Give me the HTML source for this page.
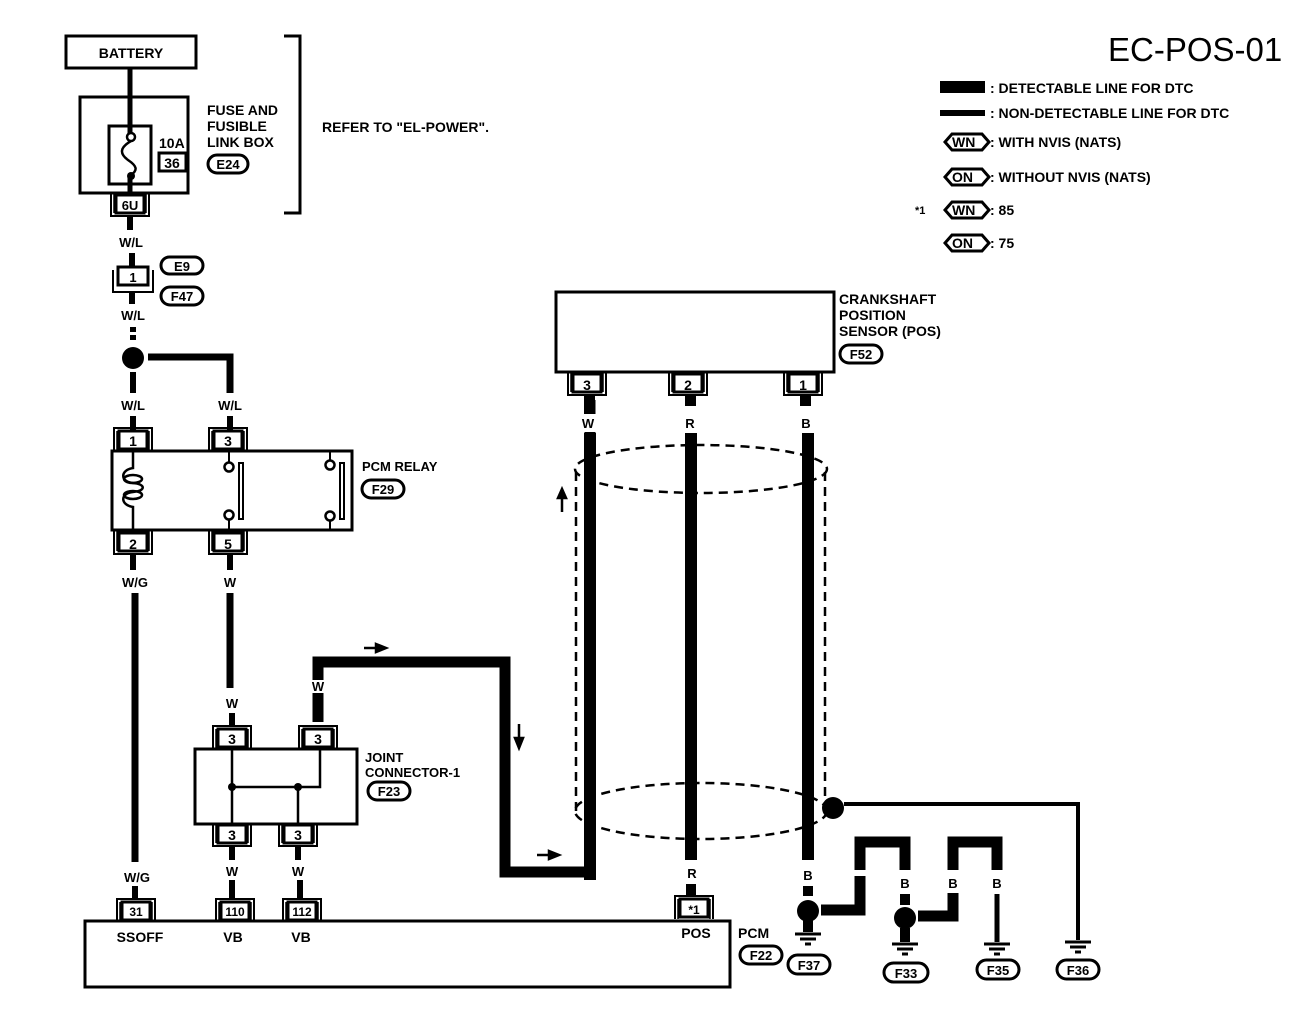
<!DOCTYPE html>
<html><head><meta charset="utf-8"><style>
html,body{margin:0;padding:0;background:#fff;}
svg{display:block;}
text{font-family:"Liberation Sans",sans-serif;fill:#000;font-weight:bold;}
</style></head><body>
<svg width="1312" height="1012" viewBox="0 0 1312 1012" xmlns="http://www.w3.org/2000/svg">
<defs>
<g id="ctop">
<rect x="-14" y="2" width="28" height="18" fill="#fff" stroke="#000" stroke-width="3"/>
<path d="M-19 22 V-1 H19 V22" fill="none" stroke="#000" stroke-width="2"/>
<path d="M-16 22 V2 M16 22 V2" fill="none" stroke="#000" stroke-width="1.5"/>
</g>
<g id="cbot">
<rect x="-14" y="0" width="28" height="18" fill="#fff" stroke="#000" stroke-width="3"/>
<path d="M-19 -2 V21 H19 V-2" fill="none" stroke="#000" stroke-width="2"/>
<path d="M-16 -2 V18 M16 -2 V18" fill="none" stroke="#000" stroke-width="1.5"/>
</g>
<g id="gnd"><path d="M-13 0 H13 M-8 5 H8 M-3 10 H3" stroke="#000" stroke-width="3"/></g>
</defs>
<text x="1108" y="61" font-size="33" style="font-weight:normal">EC-POS-01</text>

<!-- legend -->
<rect x="940" y="81" width="45" height="12" fill="#000"/>
<text x="990" y="93" font-size="14">: DETECTABLE LINE FOR DTC</text>
<rect x="940" y="110" width="45" height="6" fill="#000"/>
<text x="990" y="118" font-size="14">: NON-DETECTABLE LINE FOR DTC</text>
<g font-size="14">
<path d="M945 142 L952 134 H982 L989 142 L982 150 H952 Z" fill="none" stroke="#000" stroke-width="3"/>
<text x="952" y="147">WN</text><text x="990" y="147">: WITH NVIS (NATS)</text>
<path d="M945 177 L952 169 H982 L989 177 L982 185 H952 Z" fill="none" stroke="#000" stroke-width="3"/>
<text x="952" y="182">ON</text><text x="990" y="182">: WITHOUT NVIS (NATS)</text>
<text x="915" y="214" font-size="11">*1</text>
<path d="M945 210 L952 202 H982 L989 210 L982 218 H952 Z" fill="none" stroke="#000" stroke-width="3"/>
<text x="952" y="215">WN</text><text x="990" y="215">: 85</text>
<path d="M945 243 L952 235 H982 L989 243 L982 251 H952 Z" fill="none" stroke="#000" stroke-width="3"/>
<text x="952" y="248">ON</text><text x="990" y="248">: 75</text>
</g>

<!-- battery & fuse -->
<rect x="66" y="36" width="130" height="32" fill="#fff" stroke="#000" stroke-width="3"/>
<text x="131" y="58" font-size="14" text-anchor="middle">BATTERY</text>
<line x1="130" y1="68" x2="130" y2="120" stroke="#000" stroke-width="5"/>
<rect x="80" y="97" width="108" height="96" fill="none" stroke="#000" stroke-width="3"/>
<rect x="109" y="126" width="42" height="58" fill="#fff" stroke="#000" stroke-width="3"/>
<line x1="130" y1="97" x2="130" y2="133" stroke="#000" stroke-width="5"/>
<circle cx="131" cy="137" r="4" fill="#fff" stroke="#000" stroke-width="2.5"/>
<path d="M131 141 C119 148,120 154,128 160 C137 166,138 170,131 175" fill="none" stroke="#000" stroke-width="2.5"/>
<circle cx="131" cy="176" r="4" fill="#000"/>
<line x1="130" y1="176" x2="130" y2="198" stroke="#000" stroke-width="5"/>
<text x="159" y="148" font-size="14">10A</text>
<rect x="159" y="153" width="27" height="18" fill="none" stroke="#000" stroke-width="3"/>
<text x="172" y="168" font-size="14" text-anchor="middle">36</text>
<text x="207" y="115" font-size="14">FUSE AND</text>
<text x="207" y="131" font-size="14">FUSIBLE</text>
<text x="207" y="147" font-size="14">LINK BOX</text>
<rect x="208" y="155" width="40" height="18" rx="9" fill="none" stroke="#000" stroke-width="3"/>
<text x="228" y="169" font-size="13" text-anchor="middle">E24</text>
<path d="M284 36 H300 V213 H284" fill="none" stroke="#000" stroke-width="3"/>
<text x="322" y="132" font-size="14">REFER TO "EL-POWER".</text>

<use href="#cbot" x="130" y="195"/>
<text x="130" y="210" font-size="13" text-anchor="middle">6U</text>
<line x1="130" y1="216" x2="130" y2="230" stroke="#000" stroke-width="6"/>
<text x="131" y="247" font-size="13" text-anchor="middle">W/L</text>
<line x1="132" y1="253" x2="132" y2="268" stroke="#000" stroke-width="6"/>
<rect x="118" y="267" width="30" height="18" fill="#fff" stroke="#000" stroke-width="3"/>
<path d="M113 270 V292 H153 V270" fill="none" stroke="#000" stroke-width="2"/>
<text x="133" y="282" font-size="13" text-anchor="middle">1</text>
<rect x="161" y="257" width="42" height="17" rx="8.5" fill="none" stroke="#000" stroke-width="3"/>
<text x="182" y="271" font-size="13" text-anchor="middle">E9</text>
<rect x="161" y="287" width="42" height="18" rx="9" fill="none" stroke="#000" stroke-width="3"/>
<text x="182" y="301" font-size="13" text-anchor="middle">F47</text>
<line x1="132" y1="292" x2="132" y2="304" stroke="#000" stroke-width="6"/>
<text x="133" y="320" font-size="13" text-anchor="middle">W/L</text>
<line x1="133" y1="327" x2="133" y2="340" stroke="#000" stroke-width="6" stroke-dasharray="5 3"/>
<circle cx="133" cy="358" r="11" fill="#000"/>
<path d="M148 357 H230 V393" fill="none" stroke="#000" stroke-width="7"/>
<line x1="133" y1="372" x2="133" y2="393" stroke="#000" stroke-width="6"/>
<text x="133" y="410" font-size="13" text-anchor="middle">W/L</text>
<text x="230" y="410" font-size="13" text-anchor="middle">W/L</text>
<line x1="133" y1="416" x2="133" y2="430" stroke="#000" stroke-width="6"/>
<line x1="230" y1="416" x2="230" y2="430" stroke="#000" stroke-width="6"/>

<!-- PCM relay -->
<use href="#ctop" x="133" y="429"/><text x="133" y="446" font-size="14" text-anchor="middle">1</text>
<use href="#ctop" x="228" y="429"/><text x="228" y="446" font-size="14" text-anchor="middle">3</text>
<rect x="112" y="451" width="240" height="79" fill="none" stroke="#000" stroke-width="3"/>
<path d="M133 451 V468 C120 470,120 482,133 483 C146 484,146 491,133 492 C120 493,120 505,133 507 V530" fill="none" stroke="#000" stroke-width="2.5"/>
<ellipse cx="133" cy="479" rx="9" ry="4" fill="none" stroke="#000" stroke-width="2.5"/>
<ellipse cx="133" cy="495" rx="9" ry="4" fill="none" stroke="#000" stroke-width="2.5"/>
<line x1="229" y1="451" x2="229" y2="462" stroke="#000" stroke-width="2"/>
<circle cx="229" cy="467" r="4.5" fill="#fff" stroke="#000" stroke-width="2.5"/>
<circle cx="229" cy="515" r="4.5" fill="#fff" stroke="#000" stroke-width="2.5"/>
<line x1="229" y1="520" x2="229" y2="530" stroke="#000" stroke-width="2"/>
<rect x="239" y="463" width="4" height="56" fill="none" stroke="#000" stroke-width="2"/>
<circle cx="330" cy="465" r="4.5" fill="#fff" stroke="#000" stroke-width="2.5"/>
<circle cx="330" cy="516" r="4.5" fill="#fff" stroke="#000" stroke-width="2.5"/>
<line x1="330" y1="451" x2="330" y2="460" stroke="#000" stroke-width="2"/>
<line x1="330" y1="521" x2="330" y2="530" stroke="#000" stroke-width="2"/>
<rect x="340" y="463" width="4" height="56" fill="none" stroke="#000" stroke-width="2"/>
<text x="362" y="471" font-size="13">PCM RELAY</text>
<rect x="362" y="480" width="42" height="18" rx="9" fill="none" stroke="#000" stroke-width="3"/>
<text x="383" y="494" font-size="13" text-anchor="middle">F29</text>
<use href="#cbot" x="133" y="533"/><text x="133" y="549" font-size="14" text-anchor="middle">2</text>
<use href="#cbot" x="228" y="533"/><text x="228" y="549" font-size="14" text-anchor="middle">5</text>
<line x1="133" y1="554" x2="133" y2="570" stroke="#000" stroke-width="6"/>
<line x1="230" y1="554" x2="230" y2="570" stroke="#000" stroke-width="6"/>
<text x="135" y="587" font-size="13" text-anchor="middle">W/G</text>
<text x="230" y="587" font-size="13" text-anchor="middle">W</text>
<line x1="135" y1="593" x2="135" y2="862" stroke="#000" stroke-width="7"/>
<line x1="230" y1="593" x2="230" y2="688" stroke="#000" stroke-width="7"/>
<text x="232" y="708" font-size="13" text-anchor="middle">W</text>
<line x1="232" y1="713" x2="232" y2="727" stroke="#000" stroke-width="6"/>

<!-- detectable W route -->
<path d="M318 722 V662 H505 V872 H590 V400" fill="none" stroke="#000" stroke-width="11"/>
<line x1="318" y1="680" x2="318" y2="693" stroke="#fff" stroke-width="12"/>
<text x="318" y="691" font-size="13" text-anchor="middle">W</text>

<!-- joint connector -->
<use href="#ctop" x="232" y="727"/><text x="232" y="744" font-size="14" text-anchor="middle">3</text>
<use href="#ctop" x="318" y="727"/><text x="318" y="744" font-size="14" text-anchor="middle">3</text>
<rect x="195" y="749" width="162" height="75" fill="#fff" stroke="#000" stroke-width="3"/>
<path d="M232 749 V824 M232 787 H320 V749 M298 787 V824" fill="none" stroke="#000" stroke-width="2.5"/>
<circle cx="232" cy="787" r="4" fill="#000"/><circle cx="298" cy="787" r="4" fill="#000"/>
<text x="365" y="762" font-size="13">JOINT</text>
<text x="365" y="777" font-size="13">CONNECTOR-1</text>
<rect x="368" y="782" width="42" height="18" rx="9" fill="none" stroke="#000" stroke-width="3"/>
<text x="389" y="796" font-size="13" text-anchor="middle">F23</text>
<use href="#cbot" x="232" y="825"/><text x="232" y="840" font-size="14" text-anchor="middle">3</text>
<use href="#cbot" x="298" y="825"/><text x="298" y="840" font-size="14" text-anchor="middle">3</text>
<line x1="232" y1="846" x2="232" y2="860" stroke="#000" stroke-width="6"/>
<line x1="298" y1="846" x2="298" y2="860" stroke="#000" stroke-width="6"/>
<text x="137" y="882" font-size="13" text-anchor="middle">W/G</text>
<text x="232" y="876" font-size="13" text-anchor="middle">W</text>
<text x="298" y="876" font-size="13" text-anchor="middle">W</text>
<line x1="135" y1="886" x2="135" y2="900" stroke="#000" stroke-width="6"/>
<line x1="232" y1="880" x2="232" y2="900" stroke="#000" stroke-width="6"/>
<line x1="300" y1="880" x2="300" y2="900" stroke="#000" stroke-width="6"/>

<!-- PCM -->
<use href="#ctop" x="136" y="900"/><text x="136" y="916" font-size="12" text-anchor="middle">31</text>
<use href="#ctop" x="235" y="900"/><text x="235" y="916" font-size="12" text-anchor="middle">110</text>
<use href="#ctop" x="302" y="900"/><text x="302" y="916" font-size="12" text-anchor="middle">112</text>
<use href="#ctop" x="694" y="897"/><text x="694" y="914" font-size="12" text-anchor="middle">*1</text>
<rect x="85" y="921" width="645" height="66" fill="none" stroke="#000" stroke-width="3"/>
<text x="140" y="942" font-size="14" text-anchor="middle">SSOFF</text>
<text x="233" y="942" font-size="14" text-anchor="middle">VB</text>
<text x="301" y="942" font-size="14" text-anchor="middle">VB</text>
<text x="696" y="938" font-size="14" text-anchor="middle">POS</text>
<text x="738" y="938" font-size="14">PCM</text>
<rect x="740" y="946" width="42" height="18" rx="9" fill="none" stroke="#000" stroke-width="3"/>
<text x="761" y="960" font-size="13" text-anchor="middle">F22</text>

<!-- crankshaft sensor -->
<rect x="556" y="292" width="278" height="80" fill="none" stroke="#000" stroke-width="3"/>
<text x="839" y="304" font-size="14">CRANKSHAFT</text>
<text x="839" y="320" font-size="14">POSITION</text>
<text x="839" y="336" font-size="14">SENSOR (POS)</text>
<rect x="840" y="345" width="42" height="18" rx="9" fill="none" stroke="#000" stroke-width="3"/>
<text x="861" y="359" font-size="13" text-anchor="middle">F52</text>
<use href="#cbot" x="587" y="374"/><text x="587" y="390" font-size="14" text-anchor="middle">3</text>
<use href="#cbot" x="688" y="374"/><text x="688" y="390" font-size="14" text-anchor="middle">2</text>
<use href="#cbot" x="803" y="374"/><text x="803" y="390" font-size="14" text-anchor="middle">1</text>
<rect x="584" y="396" width="11" height="18" fill="#000"/>
<rect x="685" y="396" width="11" height="10" fill="#000"/>
<rect x="800" y="396" width="11" height="10" fill="#000"/>
<rect x="583" y="414" width="14" height="18" fill="#fff"/>
<text x="588" y="428" font-size="13" text-anchor="middle">W</text>
<text x="690" y="428" font-size="13" text-anchor="middle">R</text>
<text x="806" y="428" font-size="13" text-anchor="middle">B</text>
<line x1="590" y1="433" x2="590" y2="440" stroke="#000" stroke-width="12"/>

<!-- shield -->
<g fill="none" stroke="#000" stroke-width="2.5" stroke-dasharray="9 6">
<ellipse cx="701" cy="469" rx="126" ry="24"/>
<ellipse cx="701" cy="811" rx="126" ry="28"/>
<line x1="576" y1="472" x2="576" y2="812"/>
<line x1="825" y1="472" x2="825" y2="808"/>
</g>
<line x1="590" y1="440" x2="590" y2="880" stroke="#000" stroke-width="12"/>
<line x1="691" y1="433" x2="691" y2="860" stroke="#000" stroke-width="12"/>
<line x1="808" y1="433" x2="808" y2="860" stroke="#000" stroke-width="12"/>
<!-- arrows -->
<path d="M562 512 V494 M558 498 L562 489 L566 498 Z" stroke="#000" stroke-width="2.5" fill="#000"/>
<path d="M364 648 H380 M376 644 L386 648 L376 652 Z" stroke="#000" stroke-width="2.5" fill="#000"/>
<path d="M519 724 V740 M515 738 L519 748 L523 738 Z" stroke="#000" stroke-width="2.5" fill="#000"/>
<path d="M537 855 H551 M549 851 L559 855 L549 859 Z" stroke="#000" stroke-width="2.5" fill="#000"/>

<text x="692" y="878" font-size="13" text-anchor="middle">R</text>
<line x1="691" y1="884" x2="691" y2="897" stroke="#000" stroke-width="10"/>
<text x="808" y="880" font-size="13" text-anchor="middle">B</text>
<line x1="808" y1="886" x2="808" y2="896" stroke="#000" stroke-width="10"/>
<circle cx="808" cy="911" r="11" fill="#000"/>
<line x1="808" y1="920" x2="808" y2="932" stroke="#000" stroke-width="10"/>
<use href="#gnd" x="808" y="934"/>
<rect x="788" y="955" width="42" height="19" rx="9.5" fill="none" stroke="#000" stroke-width="3"/>
<text x="809" y="970" font-size="13" text-anchor="middle">F37</text>

<circle cx="833" cy="808" r="11" fill="#000"/>
<path d="M844 804 H1078 V940" fill="none" stroke="#000" stroke-width="4"/>
<use href="#gnd" x="1078" y="942"/>
<rect x="1057" y="960" width="42" height="19" rx="9.5" fill="none" stroke="#000" stroke-width="3"/>
<text x="1078" y="975" font-size="13" text-anchor="middle">F36</text>

<path d="M821 910 H860 V876" fill="none" stroke="#000" stroke-width="11"/>
<path d="M860 870 V842 H905 V870" fill="none" stroke="#000" stroke-width="11"/>
<text x="860" y="888" font-size="13" text-anchor="middle">B</text>
<text x="905" y="888" font-size="13" text-anchor="middle">B</text>
<line x1="905" y1="894" x2="905" y2="905" stroke="#000" stroke-width="10"/>
<circle cx="905" cy="918" r="11" fill="#000"/>
<line x1="905" y1="928" x2="905" y2="942" stroke="#000" stroke-width="10"/>
<use href="#gnd" x="905" y="944"/>
<rect x="884" y="963" width="44" height="19" rx="9.5" fill="none" stroke="#000" stroke-width="3"/>
<text x="906" y="978" font-size="13" text-anchor="middle">F33</text>
<path d="M918 916 H953 V893" fill="none" stroke="#000" stroke-width="11"/>
<path d="M953 870 V842 H997 V870" fill="none" stroke="#000" stroke-width="11"/>
<text x="953" y="888" font-size="13" text-anchor="middle">B</text>
<text x="997" y="888" font-size="13" text-anchor="middle">B</text>
<line x1="997" y1="894" x2="997" y2="942" stroke="#000" stroke-width="5"/>
<use href="#gnd" x="997" y="944"/>
<rect x="977" y="960" width="42" height="19" rx="9.5" fill="none" stroke="#000" stroke-width="3"/>
<text x="998" y="975" font-size="13" text-anchor="middle">F35</text>
</svg>
</body></html>
